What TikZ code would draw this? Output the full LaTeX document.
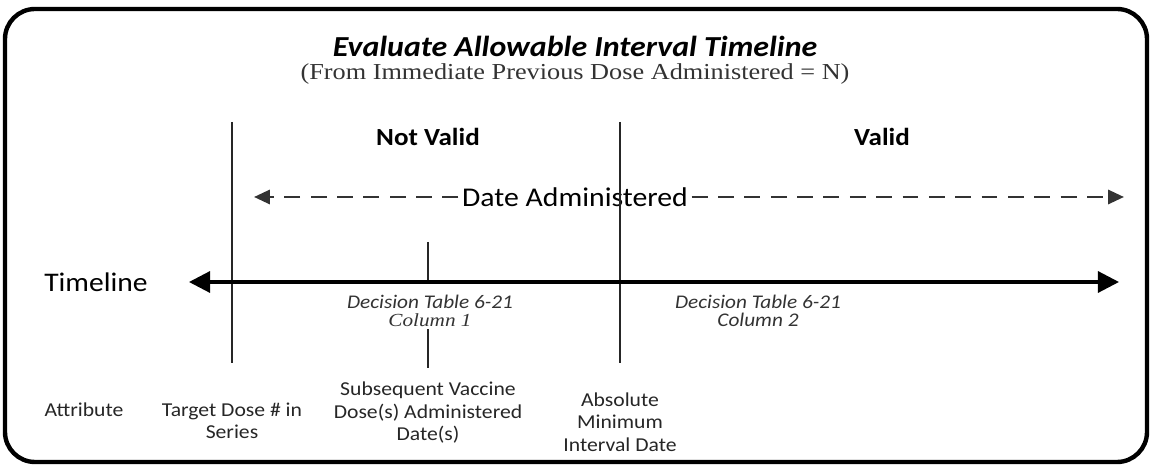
\documentclass[tikz,border=0pt]{standalone}
\usepackage{fontspec}
\setmainfont{Carlito}[FakeStretch=1.1]
\newfontfamily\timesfont{Liberation Serif}[FakeStretch=1.15]
\usetikzlibrary{arrows.meta,positioning}

\begin{document}
\begin{tikzpicture}[
  line cap=butt,
  frame/.style={draw=black, line width=2.5pt, rounded corners=0.6cm},
  marker/.style={draw=black!85, line width=1.1pt},
  axis/.style={draw=black, line width=1.8pt, {Triangle[length=12pt,width=12pt]}-{Triangle[length=12pt,width=12pt]}},
  datearrow/.style={draw=black!80, line width=1.5pt, dash pattern=on 9pt off 6pt, -{Triangle[length=9pt,width=8pt]}},
  zonelabel/.style={font=\bfseries\fontsize{14}{16}\selectfont},
  tablelabel/.style={align=center, font=\itshape\fontsize{11}{11.5}\selectfont, text=black!80},
  attrlabel/.style={align=center, font=\fontsize{11.2}{12.8}\selectfont, text=black!85}
]
\useasboundingbox (0,0) rectangle (23.02,9.32);
\path[frame] (0.10,0.08) rectangle (22.94,9.14);

% title
\node[inner ysep=1pt] (title) at (11.50,8.40)
  {\bfseries\itshape\fontsize{16.5}{19}\selectfont Evaluate Allowable Interval Timeline};
\node[inner ysep=1pt, font=\timesfont\fontsize{13}{15}\selectfont, text=black!80] (subtitle) at (11.50,7.84)
  {(From Immediate Previous Dose Administered = N)};

% zones
\node[zonelabel] (notvalid) at (8.56,6.58) {Not Valid};
\node[zonelabel] (valid) at (17.64,6.58) {Valid};

% date administered
\coordinate (dateleft) at (5.08,5.38);
\coordinate (dateright) at (22.48,5.38);
\node[fill=white, inner xsep=2pt, font=\fontsize{15.4}{18}\selectfont] (date) at (11.50,5.38) {Date Administered};

% timeline
\node[font=\fontsize{15.3}{18}\selectfont] (timeline) at (1.92,3.68) {Timeline};
\coordinate (tleft) at (3.78,3.68);
\coordinate (tright) at (22.38,3.68);

% markers
\coordinate (targettop) at (4.64,6.88);
\coordinate (targetbot) at (4.64,2.06);
\coordinate (absolutetop) at (12.40,6.88);
\coordinate (absolutebot) at (12.40,2.06);
\coordinate (subtop) at (8.56,4.48);
\coordinate (subaxis) at (8.56,3.68);

\draw[marker] (targettop) -- (targetbot);
\draw[marker] (absolutetop) -- (absolutebot);
\draw[marker] (subtop) -- (subaxis);
\draw[axis] (tleft) -- (tright);

\node[fill=white, inner xsep=1pt, inner ysep=1pt, tablelabel] (col1) at (8.60,3.10)
  {Decision Table 6-21\\[-1pt]{\timesfont\fontsize{10.5}{11.5}\selectfont Column 1}};
\node[tablelabel] (col2) at (15.16,3.10) {Decision Table 6-21\\[-1pt]Column 2};
\coordinate (subbot) at (8.56,1.96);
\draw[marker] (col1.south -| subbot) -- (subbot);

\draw[datearrow] (date.west) -- (dateleft);
\draw[datearrow] (date.east) -- (dateright);

% attributes
\node[attrlabel] (attribute) at (1.68,1.12) {Attribute};
\node[attrlabel] (target) at (4.64,0.90) {Target Dose \# in\\Series};
\node[attrlabel] (subsequent) at (8.56,1.06) {Subsequent Vaccine\\Dose(s) Administered\\Date(s)};
\node[attrlabel] (absolute) at (12.40,0.88) {Absolute\\Minimum\\Interval Date};
\end{tikzpicture}
\end{document}
